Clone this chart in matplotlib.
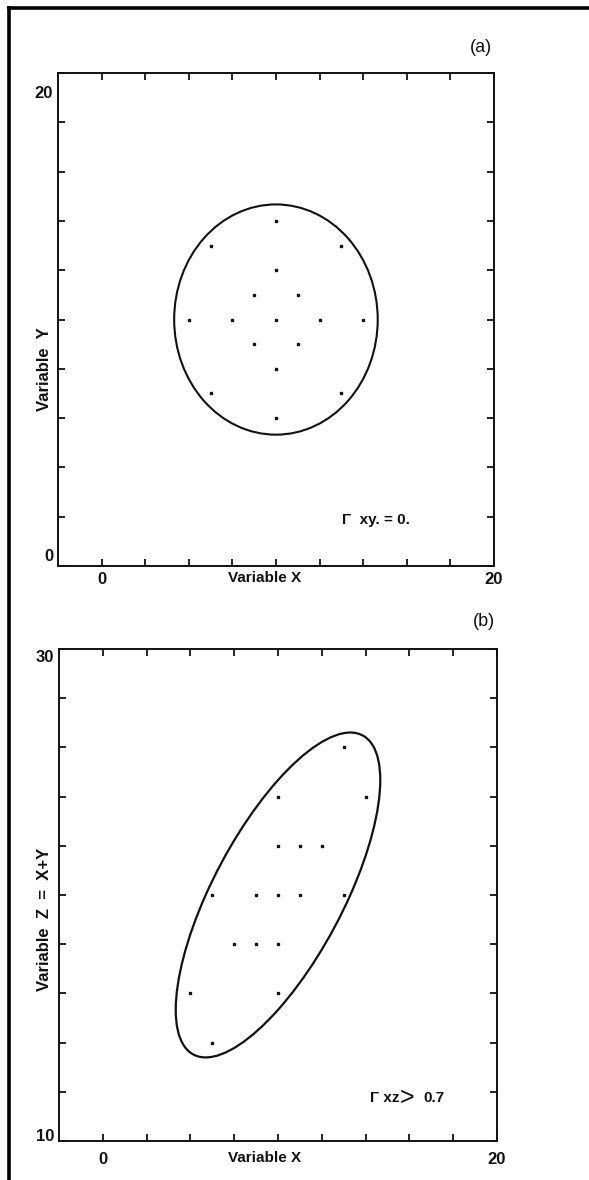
import numpy as np
import matplotlib.pyplot as plt
from matplotlib.patches import Circle
from matplotlib.transforms import Affine2D, ScaledTranslation
from matplotlib.lines import Line2D

# points
x = [10, 7, 13, 10, 9, 11, 6, 8, 10, 12, 14, 9, 11, 10, 7, 13, 10]
y = [14, 13, 13, 12, 11, 11, 10, 10, 10, 10, 10, 9, 9, 8, 7, 7, 6]
# panel (b): same X, Z
z = [24, 20, 26, 22, 20, 22, 16, 18, 20, 22, 24, 18, 20, 18, 14, 20, 16]

center = (10, 10)
radius = 4.67

x_ticks = [2, 4, 6, 8, 10, 12, 14, 16, 18, 20]
x_ticklabels = ["0", "", "", "", "", "", "", "", "", "20"]

FONT = ["Liberation Sans", "DejaVu Sans"]
INK = "#111111"
plt.rcParams["font.family"] = FONT
plt.rcParams["font.weight"] = "bold"
plt.rcParams["axes.labelweight"] = "bold"

fig = plt.figure(figsize=(5.89, 11.8), dpi=100)
ax1 = fig.add_axes([0.0985, 0.5203, 0.740, 0.4178])
ax2 = fig.add_axes([0.1002, 0.0331, 0.7436, 0.4169])


def style_axes(ax, ylim, yticks, ylabels, xpad, ylab_offsets):
    ax.set_xlim(0, 20)
    ax.set_ylim(*ylim)
    for s in ax.spines.values():
        s.set_linewidth(1.4)
        s.set_color(INK)
    ax.set_xticks(x_ticks)
    ax.set_xticklabels(x_ticklabels)
    ax.set_yticks(yticks)
    ax.set_yticklabels(ylabels)
    ax.tick_params(direction="in", length=5, width=1.3, color=INK,
                   top=True, right=True, labelsize=12, labelcolor=INK)
    ax.tick_params(axis="x", pad=4.5)
    ax.tick_params(axis="x", pad=xpad)
    ax.tick_params(axis="y", pad=3.5)
    labs = [t for t in ax.get_yticklabels() if t.get_text()]
    for lab, dy in zip(labs, ylab_offsets):
        lab.set_transform(lab.get_transform() +
                          ScaledTranslation(0, dy / 72, fig.dpi_scale_trans))


# ---- panel (a)
style_axes(ax1, (0, 20), np.arange(0, 21, 2),
           ["0"] + [""] * 9 + ["20"], 4.5, [8, -14])
ax1.add_patch(Circle(center, radius, fill=False, lw=1.5, ec=INK))
ax1.plot(x, y, "s", ms=2.1, color=INK)
ax1.set_xlabel("Variable X", fontsize=11, color=INK)
ax1.xaxis.label.set_va("center")
ax1.xaxis.set_label_coords(0.475, -0.024)
ax1.set_ylabel("Variable  Y", fontsize=12, color=INK)
ax1.yaxis.label.set_va("center")
ax1.yaxis.set_label_coords(-0.030, 0.40)
ax1.text(0.651, 0.093, "Γ  xy. = 0.", transform=ax1.transAxes,
         fontsize=11, va="center", color=INK)
fig.text(492 / 589, 1 - 47 / 1180, "(a)", ha="right", va="center",
         fontsize=13, fontweight="normal", color=INK)

# ---- panel (b)
style_axes(ax2, (10, 30), np.arange(10, 31, 2),
           ["10"] + [""] * 9 + ["30"], 8, [4, -5])
shear = Affine2D(np.array([[1, 0, 0], [1, 1, 0], [0, 0, 1]]))
ax2.add_patch(Circle(center, radius, fill=False, lw=1.6, ec=INK,
                     transform=shear + ax2.transData))
ax2.plot(x, z, "s", ms=2.1, color=INK)
ax2.set_xlabel("Variable X", fontsize=11, color=INK)
ax2.xaxis.label.set_va("center")
ax2.xaxis.set_label_coords(0.47, -0.034)
ax2.set_ylabel("Variable  Z  =  X+Y", fontsize=12, color=INK)
ax2.yaxis.label.set_va("center")
ax2.yaxis.set_label_coords(-0.033, 0.45)
ax2.text(0.71, 0.087, "Γ xz", transform=ax2.transAxes,
         fontsize=11, va="center", color=INK)
ax2.text(0.795, 0.087, ">", transform=ax2.transAxes, ha="center",
         fontsize=18, fontweight="normal", va="center", color=INK)
ax2.text(0.831, 0.087, "0.7", transform=ax2.transAxes,
         fontsize=11, va="center", color=INK)
fig.text(495 / 589, 1 - 621 / 1180, "(b)", ha="right", va="center",
         fontsize=13, fontweight="normal", color=INK)

# scanned page border (left and top edges)
fig.add_artist(Line2D([8.5 / 589, 8.5 / 589], [0, 1 - 8 / 1180],
                      transform=fig.transFigure, color="black", lw=2.6))
fig.add_artist(Line2D([8.5 / 589, 1], [1 - 8 / 1180, 1 - 8 / 1180],
                      transform=fig.transFigure, color="black", lw=2.6))

fig.savefig("out.png", dpi=100)
